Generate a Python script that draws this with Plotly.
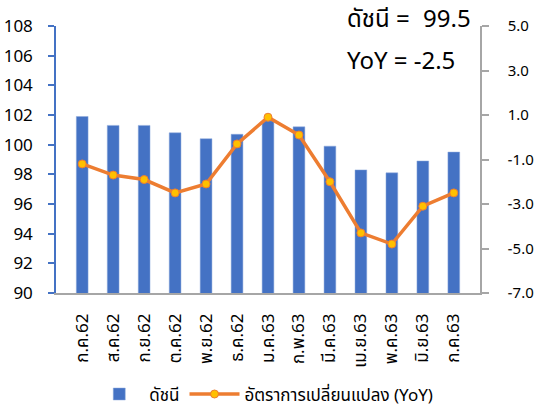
import plotly.graph_objects as go

months = ["ก.ค.62", "ส.ค.62", "ก.ย.62", "ต.ค.62", "พ.ย.62", "ธ.ค.62", "ม.ค.63",
          "ก.พ.63", "มี.ค.63", "เม.ย.63", "พ.ค.63", "มิ.ย.63", "ก.ค.63"]
index_vals = [101.9, 101.3, 101.3, 100.8, 100.4, 100.7, 101.6, 101.2, 99.9, 98.3, 98.1, 98.9, 99.5]
yoy_vals = [-1.2, -1.7, -1.9, -2.5, -2.1, -0.3, 0.9, 0.1, -2.0, -4.3, -4.8, -3.1, -2.5]
left_ticks = [90, 92, 94, 96, 98, 100, 102, 104, 106, 108]
right_ticks = [-7.0, -5.0, -3.0, -1.0, 1.0, 3.0, 5.0]

FONT = "Tahoma, 'Noto Sans Thai', 'Noto Sans', sans-serif"

fig = go.Figure()
fig.add_trace(go.Bar(
    x=months, y=index_vals, name="ดัชนี",
    marker=dict(color="#4472C4", line=dict(color="#8FAADC", width=0.5)),
    yaxis="y",
))
fig.add_trace(go.Scatter(
    x=months, y=yoy_vals, name="อัตราการเปลี่ยนแปลง (YoY)",
    mode="lines+markers",
    line=dict(color="#ED7D31", width=3.5),
    marker=dict(color="#FFC000", size=8, line=dict(color="#ED7D31", width=1)),
    yaxis="y2",
))

fig.update_layout(
    width=536, height=408,
    margin=dict(l=56, r=56, t=26, b=115, autoexpand=False),
    paper_bgcolor="white", plot_bgcolor="white",
    font=dict(family=FONT, color="#000000"),
    bargap=0.62,
    showlegend=True,
    legend=dict(orientation="h", x=0.49, xanchor="center", y=-0.38, yanchor="middle",
                font=dict(size=17, family=FONT), tracegroupgap=0, itemwidth=50),
    xaxis=dict(
        type="category", tickangle=-90, showgrid=False, automargin=False,
        showline=True, linecolor="#A6A6A6", linewidth=1.5,
        ticks="", tickfont=dict(size=17, family=FONT), ticklabelstandoff=12,
    ),
    yaxis=dict(
        range=[90, 108], tickvals=left_ticks, showgrid=False, zeroline=False, automargin=False,
        showline=True, linecolor="#4472C4", linewidth=1.5,
        ticks="outside", ticklen=6, tickcolor="#4472C4", tickwidth=1.5,
        tickfont=dict(size=17, family=FONT), ticklabelstandoff=12,
    ),
    yaxis2=dict(
        range=[-7, 5], tickvals=right_ticks, tickformat=".1f", overlaying="y", side="right",
        showgrid=False, zeroline=False, automargin=False,
        showline=True, linecolor="#A6A6A6", linewidth=1.5,
        ticks="outside", ticklen=7, tickcolor="#A6A6A6", tickwidth=1.5,
        tickfont=dict(size=15, family=FONT), ticklabelstandoff=16,
    ),
    annotations=[
        dict(text="ดัชนี =", xref="paper", yref="paper", x=0.682, y=1.022,
             xanchor="left", yanchor="middle", showarrow=False,
             font=dict(size=24, family=FONT)),
        dict(text="99.5", xref="paper", yref="paper", x=0.983, y=1.022,
             xanchor="right", yanchor="middle", showarrow=False,
             font=dict(size=24, family=FONT)),
        dict(text="YoY = -2.5", xref="paper", yref="paper", x=0.682, y=0.865,
             xanchor="left", yanchor="middle", showarrow=False,
             font=dict(size=24, family=FONT)),
    ],
)

fig.write_html("out.html", config={"displayModeBar": False},
               post_script="document.body.style.margin='0px';document.body.style.overflow='hidden';")
